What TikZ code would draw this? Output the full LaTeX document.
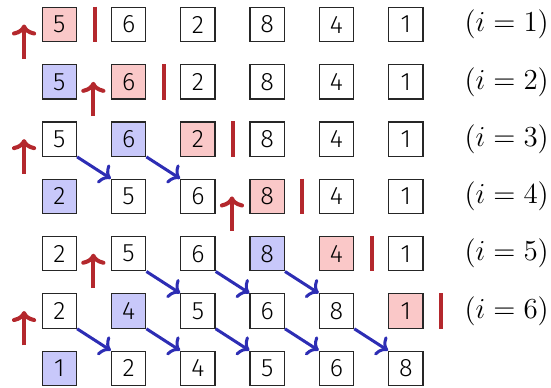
\documentclass[tikz,border=0pt]{standalone}
\usepackage{fontspec}
\newfontfamily\digfont{Fira Sans}[UprightFont={* Light}]
\usetikzlibrary{arrows.meta}
\definecolor{pinkf}{RGB}{250,200,200}
\definecolor{bluef}{RGB}{200,200,250}
\definecolor{redc}{RGB}{180,40,45}
\definecolor{bluec}{RGB}{45,45,180}
\begin{document}
\begin{tikzpicture}[x=1cm,y=1cm,
  cell/.style={draw=black!85, line width=0.6pt, minimum size=0.6cm, inner sep=0pt,
    font=\digfont\fontsize{12.5}{15}\selectfont},
  ins/.style={cell, fill=pinkf},
  srt/.style={cell, fill=bluef},
  bar/.style={draw=redc, line width=2pt},
  uparr/.style={draw=redc, line width=2pt, -{To[length=5.5pt,width=12pt]}},
  shiftarr/.style={draw=bluec, line width=1.5pt, -{To[length=5pt,width=11pt]}},
  lab/.style={font=\fontsize{13.4}{16}\selectfont}]
\useasboundingbox (0,0) rectangle (9.616,-6.754);
\foreach \r/\vals in {
  1/{5/ins,6/cell,2/cell,8/cell,4/cell,1/cell},
  2/{5/srt,6/ins,2/cell,8/cell,4/cell,1/cell},
  3/{5/cell,6/srt,2/ins,8/cell,4/cell,1/cell},
  4/{2/srt,5/cell,6/cell,8/ins,4/cell,1/cell},
  5/{2/cell,5/cell,6/cell,8/srt,4/ins,1/cell},
  6/{2/cell,4/srt,5/cell,6/cell,8/cell,1/ins},
  7/{1/srt,2/cell,4/cell,5/cell,6/cell,8/cell}} {
  \foreach \v/\s [count=\c] in \vals {
    \node[\s] (n\r-\c) at ({1.035+(\c-1)*1.2094}, {-0.4276-(\r-1)*1.0}) {\v};
  }
}
\foreach \r in {1,...,6} {
  \node[lab] (l\r) at (8.843, {-0.4276-(\r-1)*1.0}) {$(i=\r)$};
}
% bars after the inserted element
\foreach \r/\c in {1/1,2/2,3/3,4/4,5/5,6/6} {
  \draw[bar] ([xshift=0.3047cm]n\r-\c.north east) -- ([xshift=0.3047cm]n\r-\c.south east);
}
% insertion position arrows
\foreach \r/\c in {1/1,2/2,3/1,4/4,5/2,6/1} {
  \draw[uparr] ([xshift=-0.3047cm,yshift=-0.29cm]n\r-\c.south west) -- ([xshift=-0.3047cm]n\r-\c.west);
}
% shift arrows
\foreach \r/\c in {3/1,3/2,5/2,5/3,5/4,6/1,6/2,6/3,6/4,6/5} {
  \pgfmathtruncatemacro{\rn}{\r+1}
  \pgfmathtruncatemacro{\cn}{\c+1}
  \draw[shiftarr] (n\r-\c.south east) -- (n\rn-\cn.north west);
}
\end{tikzpicture}
\end{document}
